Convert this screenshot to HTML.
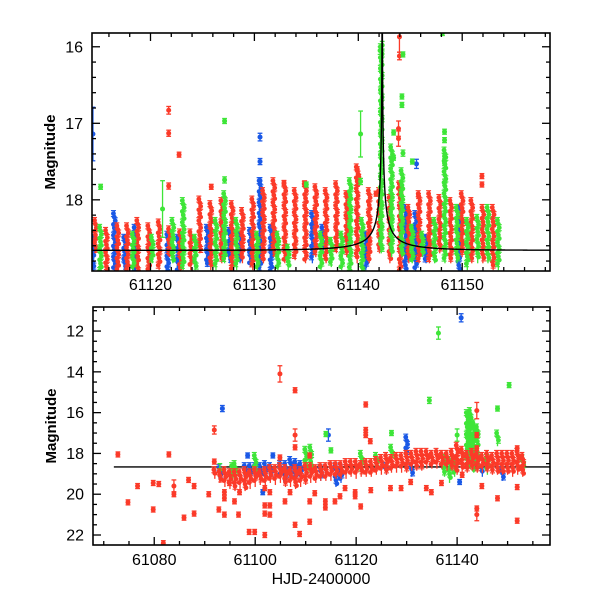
<!DOCTYPE html>
<html><head><meta charset="utf-8"><style>
html,body{margin:0;padding:0;background:#fff;}
svg{display:block;font-family:"Liberation Sans",sans-serif;}
</style></head><body>
<svg id="chart" width="600" height="600" viewBox="0 0 600 600"></svg>
<script>
const topRedDays=[114.70,115.76,116.85,117.78,118.77,119.83,120.83,121.82,122.88,123.88,124.74,125.80,126.86,127.86,128.85,129.84,130.87,131.87,132.93,133.92,134.92,135.91,136.90,137.90,138.89,139.89,141.05,142.04,143.04,144.03,144.86,145.85,146.85,147.84,148.90,149.99,150.92,151.99,152.98];
const topRedTop=[18.27,18.40,18.34,18.34,18.27,18.34,18.29,18.38,18.42,18.42,17.99,18.05,18.01,18.05,18.14,17.99,17.88,17.75,17.79,17.88,17.79,17.83,17.88,17.79,17.92,17.57,17.88,17.88,17.97,17.79,18.10,17.92,17.92,17.97,18.01,17.92,18.01,18.10,18.10];
const topRedBot=[18.66,18.93,18.93,18.93,18.93,18.93,18.88,18.71,18.93,18.88,18.66,18.88,18.79,18.93,18.79,18.88,18.79,18.71,18.79,18.75,18.79,18.71,18.79,18.66,18.71,18.79,18.79,18.66,18.79,18.93,18.79,18.79,18.79,18.66,18.79,18.71,18.79,18.79,18.88];
const topGreenDays=[115.19,118.34,120.17,122.15,123.15,124.31,126.30,127.13,128.29,130.28,132.26,133.26,136.41,137.40,138.40,139.22,140.38,142.21,143.20,144.20,145.19,146.18,147.35,148.34,149.50,150.49,151.49,152.48,153.48];
const topGreenTop=[18.36,18.45,18.49,18.27,18.01,18.49,18.27,17.92,18.27,18.45,18.45,18.62,18.45,18.53,18.45,17.75,18.27,16.00,17.31,17.62,18.36,18.45,18.27,17.35,18.10,18.27,18.23,18.10,18.27];
const topGreenBot=[18.93,18.88,18.79,18.79,18.88,18.88,18.88,18.79,18.88,18.88,18.88,18.88,18.88,18.84,18.88,18.93,18.93,18.66,18.71,18.71,18.79,18.71,18.79,18.79,18.79,18.88,18.79,18.79,18.88];
const topBlueDays=[114.46,116.52,117.51,118.51,121.66,122.65,125.47,127.62,128.62,129.61,130.54,131.60,135.58,136.57,140.72,144.53,145.52,146.52,149.67];
const topBlueTop=[18.49,18.18,18.49,18.36,18.45,18.49,18.36,18.40,18.45,18.40,17.75,18.36,18.18,18.36,18.45,18.10,18.18,18.49,18.10];
const topBlueBot=[18.93,18.93,18.88,18.93,18.93,18.93,18.84,18.79,18.79,18.84,18.88,18.93,18.79,18.66,18.88,18.93,18.93,18.79,18.93];
const topRedPtDays=[121.75,121.75,122.75,121.75,125.85,134.8,132.85,139.9,140.05,143.87,143.87,143.96,143.96,143.87,151.9,151.9,145.8,141.7];
const topRedPtMags=[16.83,17.13,17.41,17.82,17.83,17.79,17.78,17.60,17.70,17.07,17.20,15.87,16.12,17.85,17.69,17.80,17.95,17.92];
const topRedPtErr=[0.05,0.04,0.03,0.04,0.03,0.03,0.03,0.03,0.03,0.1,0.1,0.2,0.05,0.08,0.03,0.03,0.03,0.03];
const topGreenPtDays=[115.2,127.13,127.13,121.16,140.22,140.22,142.1,142.3,148.1,144.3,144.2,144.2,143.4,143.4,144.3,145.2,148.3,148.3,148.3,148.3,148.3,135.0];
const topGreenPtMags=[17.83,16.97,17.74,18.12,17.14,17.76,16.05,15.98,15.82,16.10,16.65,16.76,17.12,17.45,17.39,17.50,17.11,17.22,17.43,17.52,17.77,17.80];
const topGreenPtErr=[0.03,0.03,0.04,0.37,0.3,0.04,0.05,0.05,0,0.03,0.03,0.03,0.03,0.03,0.04,0.03,0.03,0.03,0.03,0.03,0.04,0.03];
const topBluePtDays=[114.46,130.54,130.54,130.54,145.6];
const topBluePtMags=[17.14,17.18,17.50,17.75,17.53];
const topBluePtErr=[0.35,0.05,0.04,0.04,0.06];

const botRedDays=[92,93,94,95,96,97,98,99,100,101,102,103,104,105,106,107,108,109,110,111,112,113,114,115,116,117,118,119,120,121,122,123,124,125,126,127,128,129,130,131,132,133,134,135,136,137,138,139,140,141,142,143,144,145,146,147,148,149,150,151,152,153];
const botRedTop=[18.8,18.9,18.8,18.9,18.9,18.9,18.8,18.9,18.8,18.9,18.8,18.7,18.7,18.6,18.7,18.8,18.7,18.8,18.6,18.6,18.7,18.6,18.6,18.5,18.5,18.5,18.4,18.4,18.4,18.5,18.4,18.4,18.3,18.2,18.1,18.2,18.1,18.1,18.0,18.0,17.9,17.9,17.9,18.0,17.9,18.0,18.0,17.9,17.6,17.8,18.0,17.9,18.0,18.1,18.0,18.1,18.0,18.0,18.0,18.0,17.9,18.1];
const botRedBot=[19.1,19.3,19.5,19.6,19.7,19.6,19.7,19.6,19.5,19.4,19.5,19.3,19.4,19.3,19.5,19.5,19.6,19.5,19.4,19.3,19.3,19.2,19.2,19.2,19.1,19.1,19.1,19.0,19.1,19.0,19.0,19.0,18.9,18.9,18.9,18.8,18.8,18.8,18.8,18.7,18.7,18.7,18.6,18.6,18.6,18.6,18.7,18.7,18.9,18.8,18.8,18.7,18.8,18.8,18.8,18.9,18.9,18.9,18.9,19.0,18.9,19.0];
const botBlueDays=[93,98,99,100,101,102,103,105,106,107,108,109,113,116,117,126,130,131,145,149];
const botBlueTop=[18.7,18.6,18.6,18.6,18.6,18.5,18.6,18.5,18.5,18.3,18.4,18.5,18.7,18.6,18.7,18.6,17.2,18.6,18.7,18.8];
const botBlueBot=[19.1,19.0,19.1,19.0,19.1,19.2,19.0,19.1,19.3,19.1,19.2,19.1,19.2,19.5,19.3,18.9,18.0,19.0,19.0,19.2];
const botGreenDays=[95.5,96,100,110,111,121,124,127,137.5,138.5,139.5,142,142.6,143.3,144,146,148,153];
const botGreenTop=[18.6,18.5,18.1,17.8,17.7,18.0,18.1,17.7,18.2,18.3,18.4,16.0,15.9,16.5,16.7,18.2,17.0,18.2];
const botGreenBot=[19.2,19.0,18.9,18.7,18.9,18.8,18.6,18.1,19.0,19.3,19.0,18.4,18.6,18.8,18.7,18.9,17.5,18.9];
const botRedPtDays=[72.8,74.8,76.7,79.8,79.8,80.9,81.8,82.9,83.9,83.9,85.9,86.8,87.9,87.9,90.8,91.9,91.9,92.8,93.9,93.9,93.9,94.9,95.9,96.7,96.9,98.8,99.9,101.9,101.9,101.9,101.9,102.9,102.9,102.9,104.9,104.9,105.9,106.9,107.9,107.9,107.9,107.9,108.8,110.8,110.8,110.8,111.8,113.9,113.9,115.8,116.8,117.8,119.8,119.8,120.9,121.9,121.9,121.9,122.8,122.9,126.8,128.9,130.8,133.9,134.9,136.9,143.9,143.9,143.9,143.9,143.9,144.9,148.0,151.9,151.9,151.9,141.0];
const botRedPtMags=[18.05,20.4,19.6,19.45,20.75,19.5,22.4,18.05,19.6,20.0,21.15,19.3,19.6,20.95,20.0,16.85,18.4,20.75,19.9,20.2,21.0,19.45,20.35,21.0,19.9,21.85,21.85,19.7,20.55,20.95,22.0,19.9,20.55,21.0,14.1,18.2,20.35,19.9,14.9,17.1,17.7,21.5,21.95,18.1,20.35,21.35,19.95,20.35,20.65,20.35,20.1,19.7,19.9,20.1,20.6,15.6,16.85,17.1,17.4,19.8,19.7,19.7,19.4,19.7,19.9,19.45,15.9,17.1,17.75,20.7,21.0,19.6,20.2,17.75,19.65,21.3,19.05];
const botRedPtErr=[0.08,0.1,0.05,0.08,0.08,0.08,0.08,0.08,0.3,0.1,0.08,0.1,0.08,0.1,0.1,0.2,0.08,0.08,0.08,0.08,0.08,0.08,0.08,0.08,0.08,0.08,0.08,0.08,0.08,0.08,0.08,0.08,0.08,0.08,0.4,0.1,0.08,0.08,0.1,0.3,0.08,0.08,0.08,0.08,0.08,0.08,0.08,0.08,0.08,0.08,0.08,0.08,0.08,0.08,0.08,0.05,0.08,0.08,0.08,0.08,0.08,0.08,0.08,0.08,0.08,0.08,0.4,0.1,0.1,0.1,0.3,0.08,0.08,0.1,0.08,0.08,0.08];
const botBluePtDays=[93.5,114.5,98.5,103.5,140.8,140.5,101.5];
const botBluePtMags=[15.8,17.1,18.1,18.1,11.35,19.4,19.9];
const botBluePtErr=[0.15,0.3,0.05,0.05,0.2,0.1,0.1];
const botGreenPtDays=[114,115,127,134.5,136.3,140,148,150.3,93];
const botGreenPtMags=[17.05,17.85,17.0,15.4,12.1,17.1,15.8,14.65,18.8];
const botGreenPtErr=[0.05,0.05,0.05,0.15,0.3,0.3,0.05,0.05,0.3];
const topXTicks=[61120,61130,61140,61150];
const topYTicks=[16,17,18];
const botXTicks=[61080,61100,61120,61140];
const botYTicks=[12,14,16,18,20,22];

const RED='#fb3a29',GREEN='#3ee538',BLUE='#1a58e6';
const NS='http://www.w3.org/2000/svg';
const svg=document.getElementById('chart');
function mk(tag,attrs,parent){const e=document.createElementNS(NS,tag);for(const k in attrs)e.setAttribute(k,attrs[k]);(parent||svg).appendChild(e);return e;}

function panel(cfg){
  const {L,R,T,B,x0,x1,y0,y1,id}=cfg;
  const sx=d=>L+(d-x0)/(x1-x0)*(R-L);
  const sy=m=>T+(m-y0)/(y1-y0)*(B-T);
  const g=mk('g',{});
  
  
  const cp=mk('clipPath',{id:id+'-clip'},g);
  mk('rect',{x:L,y:T,width:R-L,height:B-T},cp);
  const plot=mk('g',{'clip-path':'url(#'+id+'-clip)'},g);
  
  
  return {g,plot,sx,sy,cfg};
}
function drawPoint(P,parent,d,m,err,color){
  const x=P.sx(d),y=P.sy(m);
  const ep=Math.max(2.5,Math.abs(P.sy(m+err)-P.sy(m)));
  mk('line',{x1:x,x2:x,y1:y-ep,y2:y+ep,stroke:color,'stroke-width':1.3},parent);
  mk('line',{x1:x-2.4,x2:x+2.4,y1:y-ep,y2:y-ep,stroke:color,'stroke-width':1.3},parent);
  mk('line',{x1:x-2.4,x2:x+2.4,y1:y+ep,y2:y+ep,stroke:color,'stroke-width':1.3},parent);
  mk('circle',{cx:x,cy:y,r:2.5,fill:color},parent);
}
function streaks(P,name,days,tops,bots,color){
  const g=mk('g',{},P.plot);
  
  
  for(let i=0;i<days.length;i++){
    const x=P.sx(days[i]+P.cfg.off);
    const yt=P.sy(tops[i]),yb=P.sy(bots[i]);
    mk('line',{x1:x,x2:x,y1:yt-3,y2:yb+3,stroke:color,'stroke-width':1.3},g);
    let k=0;
    for(let y=yt;y<=yb+0.1;y+=3.6,k++){
      const dx=(k%3-1)*0.9;
      mk('circle',{cx:x+dx,cy:y,r:2.4,fill:color},g);
      if(k%2===0){
        mk('line',{x1:x+dx-2.5,x2:x+dx+2.5,y1:y-3,y2:y-3,stroke:color,'stroke-width':1.1},g);
        mk('line',{x1:x+dx-2.5,x2:x+dx+2.5,y1:y+3,y2:y+3,stroke:color,'stroke-width':1.1},g);
      }
    }
  }
}
function points(P,name,days,mags,errs,color){
  const g=mk('g',{},P.plot);
  
  
  for(let i=0;i<days.length;i++)drawPoint(P,g,days[i]+P.cfg.off,mags[i],errs[i],color);
}
function frame(P,xMajor,xMinor,yMajor,yMinor,xLabels,yLabels,labelY){
  const {L,R,T,B,x0,x1,y0,y1,id}=P.cfg;
  const ax=mk('g',{stroke:'#000','stroke-width':1.3},P.g);
  
  
  mk('rect',{x:L,y:T,width:R-L,height:B-T,fill:'none','stroke-width':1.6},ax);
  const eps=1e-6;
  for(let v=Math.ceil(x0/xMinor)*xMinor;v<=x1+eps;v+=xMinor){
    const maj=Math.abs(v/xMajor-Math.round(v/xMajor))<1e-6, len=maj?8:4, x=P.sx(v);
    mk('line',{x1:x,x2:x,y1:B,y2:B-len},ax);mk('line',{x1:x,x2:x,y1:T,y2:T+len},ax);
  }
  for(let v=Math.ceil(y0/yMinor)*yMinor;v<=y1+eps;v+=yMinor){
    const maj=Math.abs(v/yMajor-Math.round(v/yMajor))<1e-6, len=maj?8:4, y=P.sy(v);
    mk('line',{x1:L,x2:L+len,y1:y,y2:y},ax);mk('line',{x1:R,x2:R-len,y1:y,y2:y},ax);
  }
  xLabels.forEach(v=>{const t=mk('text',{x:P.sx(v),y:labelY,'text-anchor':'middle','font-size':16,fill:'#000'},P.g);t.textContent=v;
    });
  yLabels.forEach(v=>{const t=mk('text',{x:L-9,y:P.sy(v)+5.5,'text-anchor':'end','font-size':16,fill:'#000'},P.g);t.textContent=v;
    });
  const yt=mk('text',{x:0,y:0,transform:'translate('+(L-37)+','+((T+B)/2)+') rotate(-90)','text-anchor':'middle','font-size':15,'font-weight':'bold',fill:'#000'},P.g);
  yt.textContent='Magnitude';
  
}

const BASE=18.66,T0=61142.3,TE=7,U0=0.0015,FS=0.04;
function model(t){const u=Math.sqrt(U0*U0+((t-T0)/TE)**2);const A=(u*u+2)/(u*Math.sqrt(u*u+4));return BASE-2.5*Math.log10(FS*(A-1)+1);}

const P1=panel({id:'top',L:92,R:550,T:33,B:271,x0:61114.37,x1:61158.45,y0:15.82,y1:18.93,off:61000});
streaks(P1,'top-blue-series',topBlueDays,topBlueTop,topBlueBot,BLUE);
points(P1,'top-blue-points',topBluePtDays,topBluePtMags,topBluePtErr,BLUE);
streaks(P1,'top-red-series',topRedDays,topRedTop,topRedBot,RED);
points(P1,'top-red-points',topRedPtDays,topRedPtMags,topRedPtErr,RED);
streaks(P1,'top-green-series',topGreenDays,topGreenTop,topGreenBot,GREEN);
points(P1,'top-green-points',topGreenPtDays,topGreenPtMags,topGreenPtErr,GREEN);
{let d='';for(let t=61114.3;t<=61158.5;t+=0.02){d+=(d?'L':'M')+P1.sx(t).toFixed(2)+','+P1.sy(model(t)).toFixed(2);}
 const c=mk('path',{d:d,fill:'none',stroke:'#000','stroke-width':1.4},P1.plot);
 }
frame(P1,10,2,1,0.2,topXTicks,topYTicks,290);

const P2=panel({id:'bottom',L:93,R:550,T:307,B:545,x0:61067.87,x1:61158.4,y0:10.82,y1:22.49,off:61000});
{const c=mk('line',{x1:P2.sx(61072),x2:P2.sx(61158.4),y1:P2.sy(BASE),y2:P2.sy(BASE),stroke:'#000','stroke-width':1.4},P2.plot);
 }
streaks(P2,'bottom-blue-series',botBlueDays,botBlueTop,botBlueBot,BLUE);
points(P2,'bottom-blue-points',botBluePtDays,botBluePtMags,botBluePtErr,BLUE);
streaks(P2,'bottom-green-series',botGreenDays,botGreenTop,botGreenBot,GREEN);
points(P2,'bottom-green-points',botGreenPtDays,botGreenPtMags,botGreenPtErr,GREEN);
streaks(P2,'bottom-red-series',botRedDays,botRedTop,botRedBot,RED);
points(P2,'bottom-red-points',botRedPtDays,botRedPtMags,botRedPtErr,RED);
frame(P2,20,5,2,0.5,botXTicks,botYTicks,565);
const xt=mk('text',{x:321,y:584,'text-anchor':'middle','font-size':16,fill:'#000'});
xt.textContent='HJD-2400000';


</script>
</body></html>
